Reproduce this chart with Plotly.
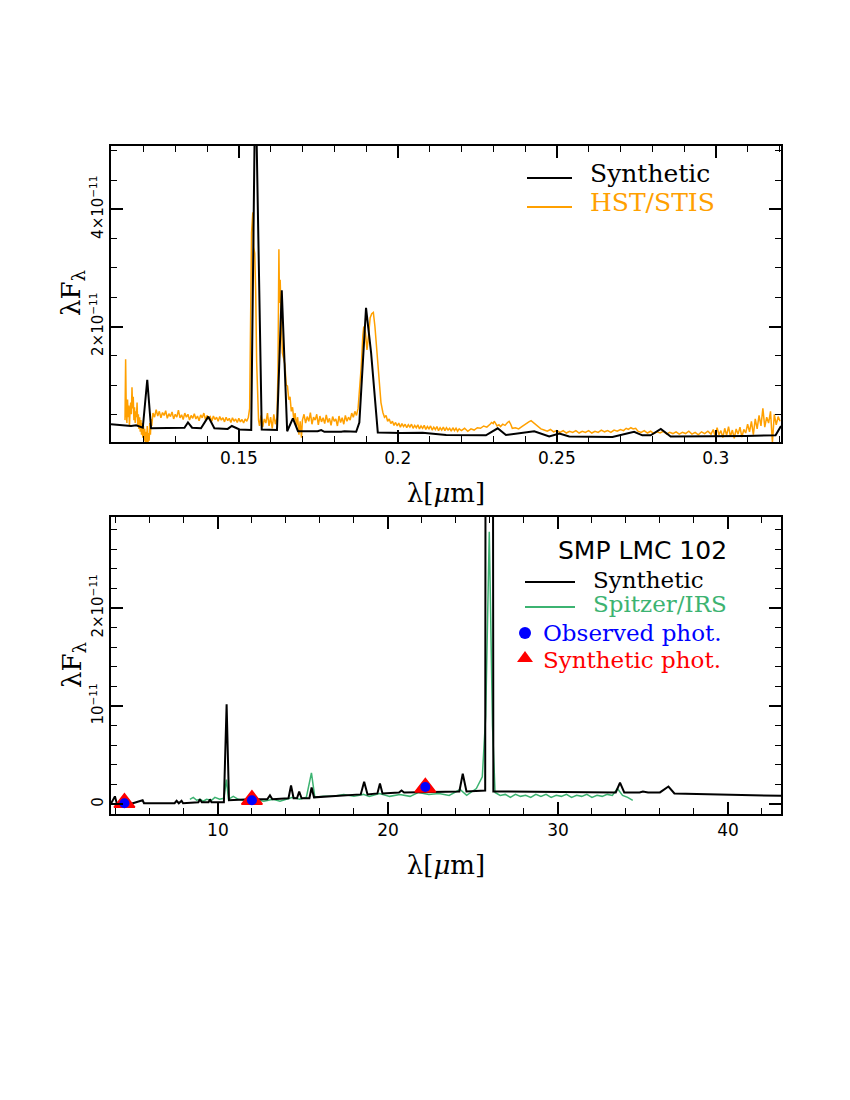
import plotly.graph_objects as go

# fluxes are lambda*F_lambda in units of 1e-11, wavelengths in micron

# ---------------- UV panel ----------------
syn_uv_wl = [
    0.1098, 0.1161, 0.1177, 0.1198, 0.1212, 0.1224, 0.1329, 0.1340, 0.1353, 0.1381,
    0.1404, 0.1423, 0.1465, 0.1478, 0.1502, 0.1539, 0.1552, 0.1572, 0.1620, 0.1635,
    0.1652, 0.1670, 0.1686, 0.1748, 0.1759, 0.1769, 0.1822, 0.1832, 0.1869, 0.1879,
    0.1900, 0.1916, 0.1937, 0.2010, 0.2078, 0.2152, 0.2277, 0.2314, 0.2340, 0.2429,
    0.2476, 0.2508, 0.2539, 0.2675, 0.2743, 0.2769, 0.2795, 0.2827, 0.2858, 0.2989,
    0.3094, 0.3188, 0.3205,
]
syn_uv_fx = [
    0.33, 0.30, 0.31, 0.27, 1.09, 0.26, 0.27, 0.36, 0.27, 0.26,
    0.46, 0.26, 0.25, 0.30, 0.24, 0.23, 6.40, 0.24, 0.23, 2.62,
    0.21, 0.43, 0.21, 0.21, 0.23, 0.20, 0.20, 0.21, 0.20, 0.36,
    2.32, 1.55, 0.19, 0.18, 0.185, 0.145, 0.14, 0.26, 0.145, 0.21,
    0.12, 0.17, 0.12, 0.11, 0.20, 0.14, 0.14, 0.25, 0.12, 0.12,
    0.13, 0.14, 0.30,
]

stis_wl = [
    0.1142, 0.1144, 0.1146, 0.1148, 0.1150, 0.1152, 0.1154, 0.1156, 0.1158, 0.1160,
    0.1162, 0.1164, 0.1166, 0.1168, 0.1170, 0.1172, 0.1174, 0.1176, 0.1178, 0.1180,
    0.1182, 0.1184, 0.1186, 0.1188, 0.1190, 0.1192, 0.1194, 0.1196, 0.1198, 0.1200,
    0.1202, 0.1204, 0.1206, 0.1208, 0.1210, 0.1212, 0.1214, 0.1216, 0.1218, 0.1220,
    0.1222, 0.1224, 0.1226, 0.1230, 0.1235, 0.1240, 0.1245, 0.1250, 0.1255, 0.1260,
    0.1265, 0.1270, 0.1275, 0.1280, 0.1285, 0.1290, 0.1295, 0.1300, 0.1305, 0.1310,
    0.1315, 0.1320, 0.1325, 0.1330, 0.1335, 0.1340, 0.1345, 0.1350, 0.1355, 0.1360,
    0.1365, 0.1370, 0.1375, 0.1380, 0.1385, 0.1390, 0.1395, 0.1400, 0.1405, 0.1410,
    0.1415, 0.1420, 0.1425, 0.1430, 0.1435, 0.1440, 0.1445, 0.1450, 0.1455, 0.1460,
    0.1465, 0.1470, 0.1475, 0.1480, 0.1485, 0.1490, 0.1495, 0.1500, 0.1505, 0.1510,
    0.1515, 0.1520, 0.1525, 0.1530, 0.1534, 0.1537, 0.1540, 0.1544, 0.1547, 0.1550,
    0.1553, 0.1556, 0.1559, 0.1562, 0.1565, 0.1570, 0.1575, 0.1580, 0.1585, 0.1590,
    0.1595, 0.1600, 0.1605, 0.1610, 0.1615, 0.1620, 0.1623, 0.1626, 0.1628, 0.1630,
    0.1633, 0.1637, 0.1641, 0.1645, 0.1649, 0.1653, 0.1657, 0.1661, 0.1665, 0.1669,
    0.1673, 0.1677, 0.1681, 0.1685, 0.1689, 0.1693, 0.1697, 0.1700, 0.1705, 0.1710,
    0.1715, 0.1720, 0.1725, 0.1730, 0.1735, 0.1740, 0.1745, 0.1750, 0.1755, 0.1760,
    0.1765, 0.1770, 0.1775, 0.1780, 0.1785, 0.1790, 0.1795, 0.1800, 0.1805, 0.1810,
    0.1815, 0.1820, 0.1825, 0.1830, 0.1835, 0.1840, 0.1845, 0.1850, 0.1855, 0.1860,
    0.1865, 0.1870, 0.1875, 0.1880, 0.1885, 0.1890, 0.1893, 0.1898, 0.1903, 0.1908,
    0.1913, 0.1918, 0.1923, 0.1928, 0.1932, 0.1937, 0.1941, 0.1947, 0.1953, 0.1958,
    0.1963, 0.1968, 0.1973, 0.1978, 0.1983, 0.1988, 0.1993, 0.1998, 0.2003, 0.2008,
    0.2013, 0.2018, 0.2023, 0.2028, 0.2033, 0.2038, 0.2043, 0.2048, 0.2053, 0.2058,
    0.2063, 0.2068, 0.2073, 0.2078, 0.2083, 0.2088, 0.2093, 0.2098, 0.2103, 0.2108,
    0.2113, 0.2118, 0.2123, 0.2128, 0.2133, 0.2138, 0.2143, 0.2148, 0.2153, 0.2158,
    0.2163, 0.2168, 0.2173, 0.2178, 0.2183, 0.2188, 0.2193, 0.2200, 0.2210, 0.2220,
    0.2230, 0.2240, 0.2250, 0.2260, 0.2270, 0.2280, 0.2290, 0.2295, 0.2300, 0.2303,
    0.2307, 0.2312, 0.2318, 0.2323, 0.2330, 0.2337, 0.2345, 0.2350, 0.2355, 0.2360,
    0.2370, 0.2380, 0.2390, 0.2400, 0.2405, 0.2412, 0.2419, 0.2425, 0.2432, 0.2440,
    0.2450, 0.2460, 0.2470, 0.2480, 0.2490, 0.2500, 0.2510, 0.2520, 0.2530, 0.2540,
    0.2550, 0.2560, 0.2570, 0.2580, 0.2590, 0.2600, 0.2610, 0.2620, 0.2630, 0.2640,
    0.2650, 0.2660, 0.2670, 0.2680, 0.2690, 0.2700, 0.2710, 0.2718, 0.2725, 0.2733,
    0.2740, 0.2748, 0.2755, 0.2765, 0.2775, 0.2785, 0.2795, 0.2805, 0.2815, 0.2825,
    0.2835, 0.2845, 0.2855, 0.2865, 0.2875, 0.2885, 0.2895, 0.2905, 0.2915, 0.2925,
    0.2935, 0.2945, 0.2955, 0.2965, 0.2975, 0.2985, 0.2992, 0.2998, 0.3004, 0.3010,
    0.3016, 0.3022, 0.3028, 0.3034, 0.3040, 0.3046, 0.3052, 0.3058, 0.3064, 0.3070,
    0.3076, 0.3082, 0.3088, 0.3094, 0.3100, 0.3106, 0.3112, 0.3118, 0.3124, 0.3130,
    0.3136, 0.3142, 0.3148, 0.3154, 0.3160, 0.3166, 0.3172, 0.3178, 0.3184, 0.3190,
    0.3196, 0.3202,
]
stis_fx = [
    0.40, 1.44, 0.55, 0.35, 0.75, 0.45, 0.65, 0.30, 0.55, 0.70,
    0.50, 0.96, 0.60, 0.80, 0.40, 0.62, 0.35, 0.55, 0.45, 0.70,
    0.30, 0.50, 0.25, 0.45, 0.20, 0.40, 0.15, 0.35, 0.10, 0.30,
    0.05, 0.25, 0.00, 0.20, 0.02, 0.30, -0.02, 0.18, 0.05, 0.35,
    0.15, 0.42, 0.30, 0.52, 0.45, 0.58, 0.47, 0.55, 0.44, 0.53,
    0.48, 0.56, 0.43, 0.51, 0.46, 0.54, 0.42, 0.50, 0.45, 0.57,
    0.44, 0.49, 0.41, 0.52, 0.45, 0.50, 0.40, 0.48, 0.43, 0.51,
    0.42, 0.47, 0.39, 0.49, 0.44, 0.52, 0.41, 0.48, 0.43, 0.46,
    0.38, 0.47, 0.41, 0.45, 0.38, 0.46, 0.40, 0.44, 0.37, 0.45,
    0.39, 0.43, 0.36, 0.44, 0.38, 0.42, 0.36, 0.43, 0.37, 0.41,
    0.35, 0.42, 0.38, 0.45, 0.60, 1.80, 3.60, 3.95, 3.35, 3.25,
    2.60, 1.40, 0.70, 0.40, 0.30, 0.48, 0.28, 0.42, 0.35, 0.52,
    0.30, 0.45, 0.26, 0.50, 0.33, 0.44, 1.20, 3.32, 2.40, 2.80,
    2.20, 1.55, 1.45, 1.35, 1.00, 0.98, 0.75, 0.80, 0.55, 0.62,
    0.40, 0.52, 0.30, 0.45, 0.15, 0.38, 0.10, 0.40, 0.50, 0.35,
    0.46, 0.38, 0.53, 0.33, 0.45, 0.40, 0.50, 0.32, 0.47, 0.37,
    0.44, 0.34, 0.49, 0.36, 0.43, 0.31, 0.46, 0.38, 0.42, 0.30,
    0.47, 0.36, 0.44, 0.33, 0.48, 0.38, 0.45, 0.40, 0.52, 0.45,
    0.55, 0.48, 0.60, 0.90, 1.32, 1.85, 2.00, 1.90, 1.60, 1.85,
    2.15, 2.22, 2.24, 2.00, 1.75, 1.30, 1.04, 0.70, 0.53, 0.45,
    0.48, 0.38, 0.42, 0.34, 0.38, 0.31, 0.36, 0.30, 0.35, 0.28,
    0.34, 0.29, 0.33, 0.27, 0.32, 0.28, 0.33, 0.26, 0.31, 0.27,
    0.32, 0.25, 0.30, 0.26, 0.31, 0.24, 0.29, 0.25, 0.30, 0.23,
    0.28, 0.24, 0.29, 0.22, 0.27, 0.23, 0.28, 0.22, 0.27, 0.23,
    0.26, 0.21, 0.27, 0.22, 0.26, 0.21, 0.25, 0.22, 0.26, 0.21,
    0.25, 0.23, 0.27, 0.26, 0.30, 0.28, 0.33, 0.36, 0.34, 0.38,
    0.35, 0.30, 0.32, 0.29, 0.33, 0.31, 0.36, 0.38, 0.33, 0.26,
    0.27, 0.25, 0.29, 0.33, 0.35, 0.37, 0.39, 0.36, 0.33, 0.29,
    0.25, 0.23, 0.21, 0.24, 0.20, 0.22, 0.19, 0.22, 0.18, 0.21,
    0.19, 0.22, 0.18, 0.21, 0.19, 0.22, 0.18, 0.21, 0.19, 0.23,
    0.20, 0.22, 0.19, 0.23, 0.21, 0.24, 0.22, 0.26, 0.24, 0.27,
    0.25, 0.26, 0.21, 0.19, 0.22, 0.18, 0.21, 0.17, 0.20, 0.18,
    0.21, 0.16, 0.19, 0.17, 0.20, 0.16, 0.19, 0.17, 0.21, 0.16,
    0.19, 0.15, 0.20, 0.17, 0.21, 0.16, 0.24, 0.12, 0.27, 0.15,
    0.22, 0.10, 0.26, 0.14, 0.29, 0.12, 0.23, 0.09, 0.25, 0.16,
    0.28, 0.11, 0.24, 0.18, 0.33, 0.20, 0.38, 0.15, 0.42, 0.25,
    0.48, 0.30, 0.60, 0.28, 0.45, 0.35, 0.55, 0.02, 0.50, 0.32,
    0.46, 0.38,
]

# ---------------- IR panel ----------------
syn_ir_wl = [
    3.72, 3.94, 4.05, 5.00, 5.57, 5.65, 7.45, 7.57, 7.70, 7.86,
    7.95, 8.85, 8.94, 9.05, 9.45, 9.53, 9.62, 10.35, 10.51, 10.65,
    11.90, 12.90, 13.06, 13.20, 14.15, 14.30, 14.45, 14.65, 14.78, 14.92,
    15.38, 15.51, 15.65, 18.40, 18.60, 18.80, 19.38, 19.53, 19.68, 20.65,
    20.80, 20.95, 24.20, 24.40, 24.62, 25.72, 25.95, 26.20, 33.40, 33.65,
    33.90, 34.80, 35.00, 35.30, 36.00, 36.50, 36.85, 43.20,
]
syn_ir_fx = [
    0.01, 0.08, 0.01, 0.01, 0.04, 0.01, 0.01, 0.035, 0.01, 0.035,
    0.01, 0.02, 0.05, 0.02, 0.02, 0.05, 0.02, 0.02, 1.02, 0.04,
    0.05, 0.05, 0.09, 0.05, 0.06, 0.19, 0.06, 0.06, 0.13, 0.06,
    0.06, 0.17, 0.07, 0.10, 0.23, 0.10, 0.11, 0.21, 0.11, 0.12,
    0.14, 0.12, 0.13, 0.31, 0.13, 0.14, 40.0, 0.13, 0.12, 0.22,
    0.12, 0.12, 0.13, 0.12, 0.12, 0.18, 0.11, 0.085,
]

irs_wl = [
    8.35, 8.55, 8.75, 8.94, 9.14, 9.33, 9.63, 9.82, 10.10, 10.35,
    10.50, 10.62, 10.90, 11.20, 11.70, 12.10, 12.70, 13.25, 13.65, 14.00,
    14.40, 14.80, 15.20, 15.50, 15.70, 16.20, 16.80, 17.40, 18.00, 18.55,
    18.90, 19.50, 20.10, 20.70, 21.30, 21.80, 22.40, 23.00, 23.60, 24.24,
    24.63, 25.20, 25.55, 25.75, 25.96, 26.15, 26.30, 26.60, 26.90, 27.20,
    27.50, 27.80, 28.10, 28.40, 28.70, 29.00, 29.30, 29.60, 29.90, 30.20,
    30.50, 30.80, 31.10, 31.40, 31.70, 32.00, 32.30, 32.60, 32.90, 33.20,
    33.50, 33.80, 34.10, 34.40,
]
irs_fx = [
    0.05, 0.07, 0.04, 0.05, 0.03, 0.05, 0.04, 0.07, 0.05, 0.06,
    0.25, 0.05, 0.08, 0.05, 0.03, 0.05, 0.03, 0.05, 0.03, 0.05,
    0.07, 0.05, 0.07, 0.32, 0.07, 0.08, 0.08, 0.10, 0.08, 0.10,
    0.08, 0.11, 0.08, 0.10, 0.08, 0.12, 0.10, 0.11, 0.09, 0.15,
    0.09, 0.16, 0.28, 0.90, 2.78, 0.80, 0.12, 0.09, 0.10, 0.07,
    0.10, 0.08, 0.09, 0.07, 0.10, 0.08, 0.10, 0.07, 0.09, 0.08,
    0.10, 0.07, 0.09, 0.08, 0.10, 0.07, 0.09, 0.08, 0.10, 0.09,
    0.16, 0.09, 0.07, 0.04,
]

phot_wl = [4.5, 12.0, 22.2]
phot_obs = [0.01, 0.04, 0.175]
phot_syn = [0.015, 0.045, 0.17]

uv_tickvals = [2, 4]
uv_ticktext = ["2×10<sup>−11</sup>", "4×10<sup>−11</sup>"]
ir_tickvals = [0, 1, 2]
ir_ticktext = ["0", "10<sup>−11</sup>", "2×10<sup>−11</sup>"]

ORANGE = "#FFA000"
GREEN = "#3CB371"
W, H = 850, 1100
OFF = 8  # page body margin
SERIF = "DejaVu Serif"
SANS = "DejaVu Sans"


def px(x):
    return (x - OFF) / W


def py(y):
    return 1 - (y - OFF) / H


def frame(**kw):
    d = dict(showline=True, linewidth=2, linecolor="black", mirror="ticks",
             ticks="inside", ticklen=12, tickwidth=1.5, tickcolor="black",
             showgrid=False, zeroline=False,
             tickfont=dict(family=SANS, size=17, color="black"))
    d.update(kw)
    return d


def minor(step):
    return dict(ticks="inside", ticklen=6, tickwidth=1.2, tickcolor="black",
                tick0=0, dtick=step, showgrid=False)


xtitle = dict(text="λ[<i>μ</i>m]", font=dict(family=SERIF, size=26, color="black"), standoff=16)
ytick_font = dict(family=SANS, size=15, color="black")

fig = go.Figure()
fig.add_trace(go.Scatter(x=stis_wl, y=stis_fx, mode="lines", line=dict(color=ORANGE, width=1.5),
                         xaxis="x", yaxis="y"))
fig.add_trace(go.Scatter(x=syn_uv_wl, y=syn_uv_fx, mode="lines", line=dict(color="black", width=2),
                         xaxis="x", yaxis="y"))
fig.add_trace(go.Scatter(x=irs_wl, y=irs_fx, mode="lines", line=dict(color=GREEN, width=1.5),
                         xaxis="x2", yaxis="y2"))
fig.add_trace(go.Scatter(x=syn_ir_wl, y=syn_ir_fx, mode="lines", line=dict(color="black", width=2),
                         xaxis="x2", yaxis="y2"))
fig.add_trace(go.Scatter(x=phot_wl, y=phot_syn, mode="markers",
                         marker=dict(symbol="triangle-up", size=18, color="red",
                                     line=dict(color="red", width=1.5)),
                         xaxis="x2", yaxis="y2"))
fig.add_trace(go.Scatter(x=phot_wl, y=phot_obs, mode="markers",
                         marker=dict(symbol="circle", size=10, color="blue", line=dict(width=0)),
                         xaxis="x2", yaxis="y2"))

fig.update_layout(
    width=W, height=H, margin=dict(l=0, r=0, t=0, b=0),
    paper_bgcolor="white", plot_bgcolor="white", showlegend=False,
    xaxis=frame(domain=[px(111), px(781)], anchor="y", range=[0.1098, 0.3205],
                tick0=0, dtick=0.05, minor=minor(0.01), title=xtitle),
    yaxis=frame(domain=[py(442), py(146)], anchor="x", range=[0.026, 5.085],
                tickmode="array", tickvals=uv_tickvals, ticktext=uv_ticktext,
                tickangle=-90, tickfont=ytick_font, minor=minor(0.5)),
    xaxis2=frame(domain=[px(111), px(781)], anchor="y2", range=[3.71, 43.12],
                 tick0=0, dtick=10, minor=minor(2), title=xtitle),
    yaxis2=frame(domain=[py(814), py(517)], anchor="x2", range=[-0.10, 2.93],
                 tickmode="array", tickvals=ir_tickvals, ticktext=ir_ticktext,
                 tickangle=-90, tickfont=ytick_font, minor=minor(0.2)),
)


def label(x, y, text, color="black", family=SERIF, size=24, angle=0, anchor="left"):
    fig.add_annotation(x=px(x), y=py(y), xref="paper", yref="paper", text=text,
                       showarrow=False, xanchor=anchor, yanchor="middle", textangle=angle,
                       font=dict(family=family, size=size, color=color))


def sample(x0, x1, y, color):
    fig.add_shape(type="line", xref="paper", yref="paper", x0=px(x0), x1=px(x1),
                  y0=py(y), y1=py(y), line=dict(color=color, width=1.8))


# y-axis titles
label(73, 293, "λF<sub>λ</sub>", size=26, angle=-90, anchor="center")
label(73, 665, "λF<sub>λ</sub>", size=26, angle=-90, anchor="center")

# hand-drawn legends, as in the original figure
sample(527, 572, 178, "black")
label(588, 173, "Synthetic", size=25)
sample(527, 572, 207, ORANGE)
label(588, 202, "HST/STIS", ORANGE, size=25)

label(556, 550, "SMP LMC 102", family=SANS, size=25)
sample(525, 575, 582, "black")
label(591, 580, "Synthetic", size=23)
sample(525, 575, 607, GREEN)
label(591, 604, "Spitzer/IRS", GREEN, size=23)
fig.add_shape(type="circle", xref="paper", yref="paper", x0=px(519), x1=px(531),
              y0=py(639), y1=py(627), fillcolor="blue", line=dict(width=0))
label(541, 633, "Observed phot.", "blue", size=23)
fig.add_shape(type="path", xref="paper", yref="paper",
              path=f"M {px(517)},{py(662)} L {px(533)},{py(662)} L {px(525)},{py(651)} Z",
              fillcolor="red", line=dict(width=0))
label(541, 660, "Synthetic phot.", "red", size=23)

fig.write_html("out.html")
